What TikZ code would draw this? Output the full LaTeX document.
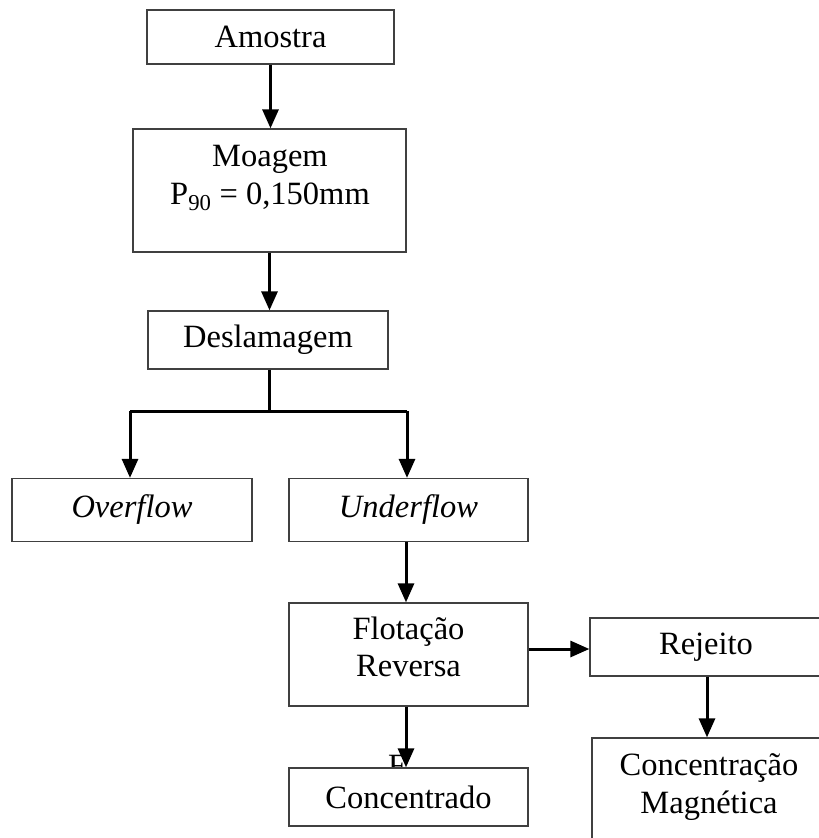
\documentclass[tikz,border=0pt]{standalone}
\usepackage{fontspec}
\setmainfont{Liberation Serif}
\usetikzlibrary{arrows.meta}
\begin{document}
\begin{tikzpicture}[x=1pt,y=-1pt,
  every node/.style={font=\fontsize{32.5}{37.5}\selectfont},
  box/.style={draw=black!75, line width=1.3pt, fill=white, inner sep=0pt},
  lbl/.style={inner sep=0pt, align=center},
  flow/.style={line width=3pt, -{Triangle[width=16pt,length=19pt]}},
  link/.style={line width=3pt}]
\useasboundingbox (0,0) rectangle (819,838);
\clip (0,0) rectangle (819,838);

% process boxes
\node[box, minimum width=247, minimum height=54] (amostra) at (270.5,37) {Amostra};
\node[box, minimum width=273, minimum height=123] (moagem) at (269.5,190.5) {};
\node[lbl] (moagemtxt) at (270,178) {Moagem\\P\textsubscript{90} = 0,150mm};
\node[box, minimum width=240, minimum height=58] (deslam) at (268,340) {Deslamagem};
\coordinate (split) at (269,411);
\node[box, minimum width=240, minimum height=63] (over) at (132,510) {\itshape Overflow};
\node[box, minimum width=239, minimum height=63] (under) at (408.5,510) {\itshape Underflow};
\node[box, minimum width=239, minimum height=103] (flot) at (408.5,654.5) {};
\node[lbl] (flottxt) at (408.5,647) {Flotação\\Reversa};
\node[box, minimum width=232, minimum height=58] (rejeito) at (706,647) {Rejeito};
\node[box, minimum width=234, minimum height=110] (magn) at (709,793) {};
\node[lbl] (magntxt) at (709,787) {Concentração\\Magnética};

% stray letter partly hidden under the last box
\node[inner sep=0pt, anchor=base west] (stray) at (388,776) {F};
\node[box, minimum width=239, minimum height=58] (conc) at (408.5,797) {Concentrado};

% connectors
\draw[flow] (amostra.south) -- (amostra.south |- moagem.north);
\draw[flow] (moagem.south) -- (moagem.south |- deslam.north);
\draw[link] (deslam.south -| split) -- (split);
\draw[link] (130,411) -- (407,411);
\draw[flow] (130,411) -- (130,411 |- over.north);
\draw[flow] (407,411) -- (407,411 |- under.north);
\draw[flow] (406,0 |- under.south) -- (406,0 |- flot.north);
\draw[flow] (flot.east |- 0,649) -- (rejeito.west |- 0,649);
\draw[flow] (707,0 |- rejeito.south) -- (707,0 |- magn.north);
\draw[flow] (406,0 |- flot.south) -- (406,0 |- conc.north);
\end{tikzpicture}
\end{document}
